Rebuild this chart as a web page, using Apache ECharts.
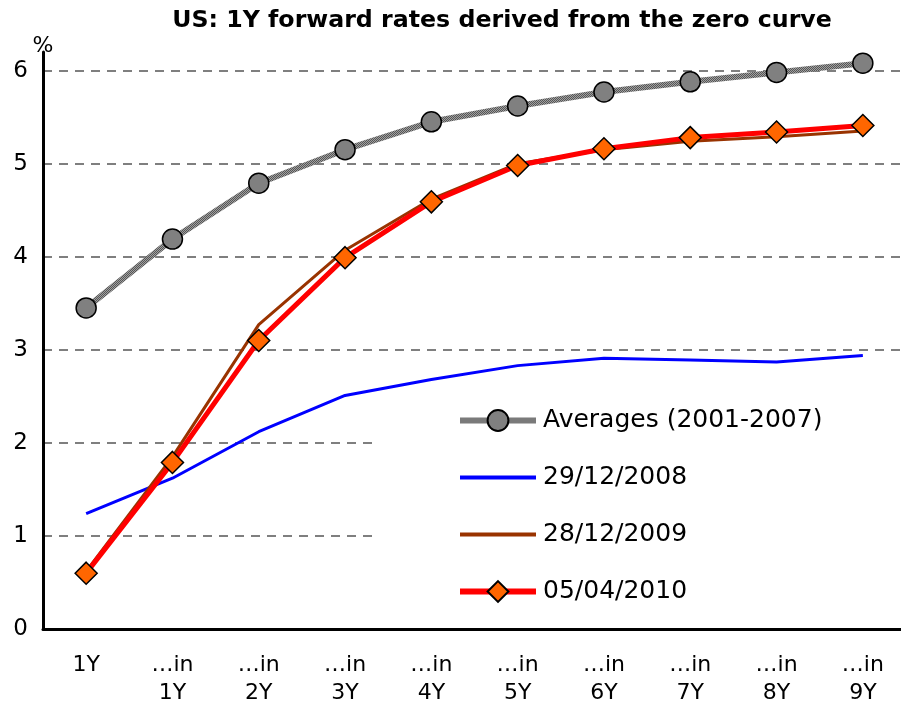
<!DOCTYPE html>
<html>
<head>
<meta charset="utf-8">
<script src="https://cdn.jsdelivr.net/npm/echarts@6/dist/echarts.min.js"></script>
<style>
  html, body { margin: 0; padding: 0; background: #fff; }
  #chart { width: 901px; height: 702px; }
</style>
</head>
<body>
<div id="chart"></div>
<script>
// categories on the x axis
const categories = ['1Y', '…in\n1Y', '…in\n2Y', '…in\n3Y', '…in\n4Y', '…in\n5Y', '…in\n6Y', '…in\n7Y', '…in\n8Y', '…in\n9Y'];

// series values (%)
const averages = [3.45, 4.19, 4.79, 5.15, 5.45, 5.62, 5.77, 5.88, 5.98, 6.08];
const dec2008 = [1.24, 1.62, 2.12, 2.51, 2.68, 2.83, 2.91, 2.89, 2.87, 2.94];
const dec2009 = [0.62, 1.85, 3.27, 4.07, 4.62, 5.0, 5.15, 5.24, 5.29, 5.35];
const apr2010 = [0.6, 1.79, 3.1, 3.99, 4.59, 4.98, 5.16, 5.28, 5.34, 5.41];

const font = 'DejaVu Sans, Verdana, sans-serif';

// hatched grey texture for the averages line
function makePattern() {
  const c = document.createElement('canvas');
  c.width = 2; c.height = 2;
  const ctx = c.getContext('2d');
  ctx.fillStyle = '#a0a0a0';
  ctx.fillRect(0, 0, 2, 2);
  ctx.fillStyle = '#555555';
  ctx.fillRect(0, 0, 1, 1);
  ctx.fillRect(1, 1, 1, 1);
  return { image: c, repeat: 'repeat' };
}
const avgPattern = makePattern();

const chart = echarts.init(document.getElementById('chart'));

const option = {
  animation: false,
  backgroundColor: '#fff',
  textStyle: { fontFamily: font },
  title: {
    text: 'US: 1Y forward rates derived from the zero curve',
    left: 497,
    textAlign: 'center',
    top: 4,
    textStyle: { fontFamily: font, fontSize: 23.7, fontWeight: 'bold', color: '#000' }
  },
  grid: { left: 43, right: -5, top: 52, bottom: 73, outerBoundsMode: 'none', containLabel: false },
  xAxis: {
    type: 'category',
    data: categories,
    axisLine: { lineStyle: { color: '#000', width: 3 } },
    axisTick: { inside: true, length: 7, lineStyle: { color: '#000', width: 2 } },
    axisLabel: { color: '#000', fontSize: 22, lineHeight: 28, margin: 22, interval: 0 },
    splitLine: { show: false }
  },
  yAxis: {
    type: 'value',
    min: 0,
    max: 6.2,
    interval: 1,
    name: '%',
    nameLocation: 'end',
    nameGap: -5,
    nameTextStyle: { color: '#000', fontSize: 22, align: 'center' },
    axisLine: { show: true, lineStyle: { color: '#000', width: 3 } },
    axisTick: { inside: true, length: 7, lineStyle: { color: '#000', width: 2 } },
    axisLabel: {
      color: '#000', fontSize: 23, margin: 15,
      formatter: v => (Number.isInteger(v) ? String(v) : '')
    },
    splitLine: {
      show: true,
      showMinLine: false,
      showMaxLine: false,
      lineStyle: { color: '#555', width: 1.5, type: [9, 7] }
    }
  },
  legend: {
    orient: 'vertical',
    left: 375,
    top: 392,
    z: 1,
    padding: [16, 80, 10, 82],
    backgroundColor: '#fff',
    itemWidth: 76,
    itemHeight: 26,
    itemGap: 32,
    textStyle: { color: '#000', fontSize: 25, fontFamily: font, padding: [0, 0, 0, 2] },
    data: [
      { name: 'Averages (2001-2007)', lineStyle: { width: 6, color: avgPattern } },
      { name: '29/12/2008', itemStyle: { opacity: 0 }, lineStyle: { width: 4 } },
      { name: '28/12/2009', itemStyle: { opacity: 0 }, lineStyle: { width: 4 } },
      { name: '05/04/2010', lineStyle: { width: 6 } }
    ]
  },
  series: [
    {
      name: 'Averages (2001-2007)',
      type: 'line',
      data: averages,
      symbol: 'circle',
      symbolSize: 20,
      lineStyle: { color: avgPattern, width: 6 },
      itemStyle: { color: '#808080', borderColor: '#000', borderWidth: 1.5 },
      z: 3
    },
    {
      name: '29/12/2008',
      type: 'line',
      data: dec2008,
      symbol: 'none',
      lineStyle: { color: '#0000ff', width: 3 },
      itemStyle: { color: '#0000ff' },
      z: 2
    },
    {
      name: '28/12/2009',
      type: 'line',
      data: dec2009,
      symbol: 'none',
      lineStyle: { color: '#993300', width: 3 },
      itemStyle: { color: '#993300' },
      z: 2
    },
    {
      name: '05/04/2010',
      type: 'line',
      data: apr2010,
      symbol: 'diamond',
      symbolSize: 22,
      lineStyle: { color: '#ff0000', width: 5 },
      itemStyle: { color: '#ff6600', borderColor: '#000', borderWidth: 1.5 },
      z: 3
    }
  ]
};

chart.setOption(option);
</script>
</body>
</html>
